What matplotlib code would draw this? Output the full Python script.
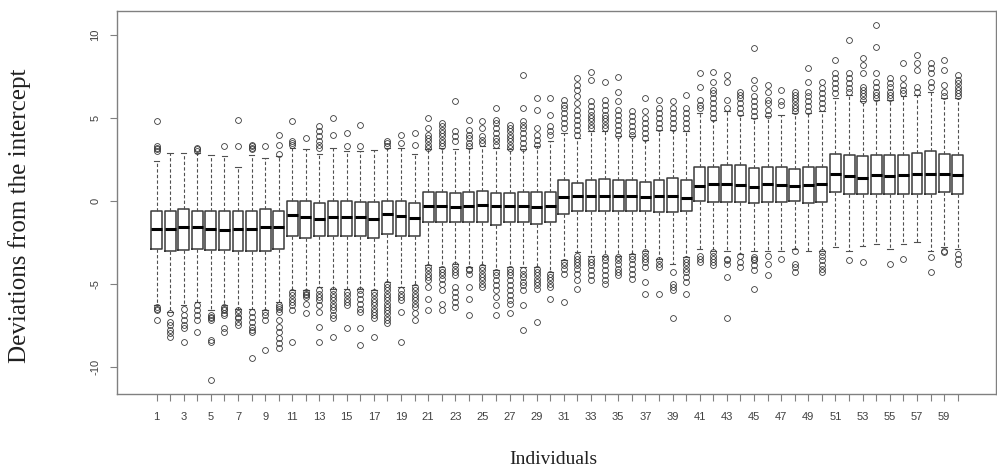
import matplotlib
matplotlib.use("Agg")
import matplotlib.pyplot as plt

individuals = list(range(1, 61))

med = [-1.67, -1.70, -1.57, -1.60, -1.67, -1.77, -1.70, -1.70, -1.60, -1.60,
       -0.86, -0.96, -1.10, -0.96, -0.96, -1.00, -1.10, -0.80, -0.90, -1.06,
       -0.30, -0.30, -0.40, -0.30, -0.24, -0.34, -0.34, -0.30, -0.36, -0.34,
       0.24, 0.30, 0.30, 0.30, 0.30, 0.30, 0.24, 0.30, 0.30, 0.16,
       0.90, 1.00, 1.00, 0.96, 0.86, 1.04, 0.94, 0.90, 0.96, 1.00,
       1.65, 1.50, 1.40, 1.57, 1.50, 1.57, 1.60, 1.60, 1.65, 1.57]

q1 = [-2.91, -3.05, -2.97, -2.90, -2.97, -2.97, -3.01, -3.01, -3.01, -2.90,
      -2.10, -2.25, -2.15, -2.15, -2.15, -2.15, -2.25, -2.00, -2.15, -2.15,
      -1.30, -1.30, -1.30, -1.30, -1.30, -1.45, -1.30, -1.30, -1.38, -1.30,
      -0.80, -0.60, -0.60, -0.60, -0.60, -0.60, -0.60, -0.70, -0.70, -0.60,
      0.00, -0.04, -0.06, -0.06, -0.10, -0.06, -0.04, 0.00, -0.10, -0.06,
      0.56, 0.44, 0.44, 0.44, 0.40, 0.44, 0.44, 0.40, 0.56, 0.44]

q3 = [-0.60, -0.60, -0.50, -0.60, -0.60, -0.60, -0.60, -0.60, -0.50, -0.60,
      0.00, 0.00, -0.10, 0.00, 0.00, -0.05, -0.05, 0.00, 0.00, -0.10,
      0.56, 0.56, 0.50, 0.56, 0.60, 0.50, 0.50, 0.56, 0.56, 0.56,
      1.25, 1.10, 1.25, 1.30, 1.25, 1.25, 1.15, 1.25, 1.35, 1.25,
      2.05, 2.05, 2.15, 2.15, 2.00, 2.05, 2.05, 1.90, 2.05, 2.05,
      2.85, 2.77, 2.70, 2.77, 2.77, 2.77, 2.90, 3.00, 2.85, 2.77]

whis_lo = [-6.3, -6.7, -6.3, -6.1, -6.6, -6.3, -6.5, -6.5, -6.6, -6.1,
           -5.4, -5.4, -5.2, -5.3, -5.3, -5.3, -5.4, -4.9, -5.2, -5.1,
           -3.9, -4.0, -3.8, -4.0, -3.9, -4.2, -4.0, -4.0, -4.0, -4.3,
           -3.6, -3.1, -3.3, -3.3, -3.3, -3.2, -3.0, -3.5, -3.8, -3.4,
           -2.9, -3.0, -3.0, -3.2, -3.0, -3.05, -3.05, -2.9, -3.0, -3.0,
           -2.8, -3.0, -2.7, -2.6, -2.9, -2.6, -2.5, -3.0, -2.8, -2.9]

whis_hi = [2.4, 2.9, 2.9, 2.9, 2.77, 2.7, 2.07, 2.77, 2.6, 2.7,
           3.2, 3.1, 2.8, 3.2, 3.0, 3.0, 3.07, 3.2, 3.2, 2.8,
           3.1, 3.2, 3.1, 3.2, 3.3, 3.2, 3.1, 3.1, 3.3, 3.6,
           4.1, 3.8, 4.2, 4.2, 3.9, 3.9, 3.7, 4.3, 4.3, 4.2,
           5.3, 4.9, 5.4, 5.2, 5.0, 5.1, 5.2, 5.3, 5.3, 5.4,
           6.2, 6.4, 6.0, 6.1, 6.1, 6.3, 6.4, 6.6, 6.2, 6.2]

fliers_hi = [
    [3.0, 3.1, 3.2, 3.3, 4.8], [], [], [3.0, 3.1, 3.2], [], [3.3], [3.3, 4.9],
    [3.1, 3.2, 3.3, 3.4], [3.3], [2.8, 3.4, 4.0],
    [3.4, 3.5, 3.6, 4.8], [3.8], [3.2, 3.4, 3.6, 3.9, 4.2, 4.5], [4.0, 5.0],
    [3.3, 4.1], [3.3, 4.6], [], [3.3, 3.5, 3.6], [3.5, 4.0], [3.4, 4.1],
    [3.2, 3.4, 3.6, 3.8, 4.0, 4.4, 5.0], [3.3, 3.5, 3.7, 3.9, 4.1, 4.3, 4.5, 4.7],
    [3.6, 3.9, 4.2, 6.0], [3.3, 3.5, 3.8, 4.0, 4.3, 4.9], [3.5, 3.7, 3.9, 4.4, 4.8],
    [3.4, 3.6, 3.8, 4.1, 4.4, 4.7, 4.9, 5.6], [3.2, 3.4, 3.6, 3.8, 4.0, 4.2, 4.4, 4.6],
    [3.2, 3.5, 3.8, 4.1, 4.4, 4.6, 4.8, 5.6, 7.6], [3.4, 3.7, 4.0, 4.4, 5.5, 6.2],
    [4.0, 4.2, 4.5, 5.2, 6.2],
    [4.4, 4.7, 5.0, 5.3, 5.6, 5.8, 6.1], [4.0, 4.3, 4.6, 4.9, 5.2, 5.5, 5.9, 6.3, 6.7, 7.0, 7.4],
    [4.4, 4.6, 4.8, 5.0, 5.2, 5.4, 5.7, 6.0, 7.3, 7.8], [4.4, 4.6, 4.8, 5.0, 5.2, 5.5, 5.8, 6.1, 7.2],
    [4.0, 4.3, 4.6, 4.9, 5.2, 5.5, 6.0, 6.6, 7.5], [4.0, 4.2, 4.5, 4.8, 5.1, 5.4],
    [3.8, 4.1, 4.4, 4.7, 5.0, 5.4, 6.2], [4.4, 4.7, 5.0, 5.3, 5.6, 6.1],
    [4.4, 4.7, 5.0, 5.3, 5.6, 6.0], [4.4, 4.7, 5.0, 5.3, 5.6, 6.4],
    [5.6, 5.8, 6.1, 6.9, 7.7], [5.0, 5.3, 5.6, 5.9, 6.2, 6.5, 6.7, 7.2, 7.8],
    [5.6, 6.1, 7.2, 7.6], [5.3, 5.6, 5.9, 6.2, 6.4, 6.6], [5.1, 5.4, 5.7, 6.0, 6.3, 6.8, 7.3, 9.2],
    [5.2, 5.5, 5.9, 6.1, 6.6, 7.0], [5.8, 6.0, 6.7], [5.4, 5.6, 5.8, 6.0, 6.2, 6.4, 6.6],
    [5.4, 5.7, 6.0, 6.3, 6.6, 7.2, 8.0], [5.6, 5.9, 6.2, 6.5, 6.8, 7.2],
    [6.5, 6.8, 7.1, 7.4, 7.7, 8.5], [6.6, 6.8, 7.1, 7.4, 7.7, 9.7],
    [6.1, 6.3, 6.5, 6.7, 6.9, 7.7, 8.2, 8.6], [6.2, 6.4, 6.6, 6.9, 7.2, 7.7, 9.3, 10.6],
    [6.2, 6.4, 6.6, 6.9, 7.1, 7.4], [6.5, 6.7, 7.0, 7.4, 8.3], [6.6, 6.9, 7.9, 8.3, 8.8],
    [6.9, 7.2, 7.7, 8.0, 8.3], [6.3, 6.6, 7.0, 7.9, 8.5], [6.3, 6.5, 6.7, 6.9, 7.1, 7.3, 7.6],
]

fliers_lo = [
    [-6.4, -6.5, -6.6, -7.2], [-6.8, -7.3, -7.5, -7.8, -8.0, -8.2],
    [-6.5, -6.9, -7.2, -7.5, -7.7, -8.5], [-6.3, -6.6, -6.9, -7.2, -7.9],
    [-6.9, -7.0, -7.1, -7.2, -8.4, -8.5, -10.8], [-6.4, -6.5, -6.6, -6.8, -6.9, -7.7, -7.9],
    [-6.6, -6.8, -7.0, -7.1, -7.3, -7.5], [-6.7, -7.0, -7.3, -7.6, -7.8, -7.9, -9.5],
    [-6.7, -6.9, -7.2, -9.0], [-6.3, -6.4, -6.5, -6.7, -7.2, -7.6, -7.9, -8.3, -8.6, -8.9],
    [-5.5, -5.7, -5.9, -6.1, -6.3, -6.6, -8.5], [-5.5, -5.6, -5.7, -5.8, -6.2, -6.8],
    [-5.4, -5.6, -5.8, -6.0, -6.3, -6.7, -7.6, -8.5],
    [-5.4, -5.6, -5.8, -6.0, -6.2, -6.4, -6.6, -6.9, -7.1, -8.2],
    [-5.5, -5.7, -5.9, -6.1, -6.3, -7.7], [-5.4, -5.6, -5.9, -6.2, -6.5, -6.7, -7.7, -8.7],
    [-5.5, -5.7, -5.9, -6.1, -6.3, -6.5, -6.7, -6.9, -7.1, -8.2],
    [-5.0, -5.2, -5.4, -5.6, -5.8, -6.0, -6.2, -6.4, -6.6, -6.8, -7.0, -7.2, -7.4],
    [-5.4, -5.6, -5.8, -6.0, -6.7, -8.5], [-5.2, -5.4, -5.6, -5.8, -6.0, -6.2, -6.4, -6.8, -7.2],
    [-4.0, -4.2, -4.4, -4.6, -4.8, -5.2, -5.9, -6.6], [-4.1, -4.3, -4.5, -4.7, -5.0, -5.4, -6.2, -6.6],
    [-3.9, -4.1, -4.3, -4.5, -5.2, -5.5, -5.8, -6.1, -6.4], [-4.1, -4.2, -4.4, -5.2, -5.9, -6.9],
    [-4.0, -4.2, -4.4, -4.6, -4.8, -5.0, -5.2], [-4.3, -4.5, -4.8, -5.1, -5.4, -5.8, -6.3, -6.9],
    [-4.1, -4.3, -4.5, -4.8, -5.1, -5.4, -5.7, -6.0, -6.2, -6.8],
    [-4.2, -4.4, -4.6, -4.9, -5.1, -5.4, -6.3, -7.8], [-4.1, -4.3, -4.5, -4.7, -4.9, -5.1, -5.3, -7.3],
    [-4.4, -4.6, -4.8, -5.0, -5.2, -5.9],
    [-3.7, -3.9, -4.1, -4.4, -6.1], [-3.3, -3.5, -3.7, -3.9, -4.1, -4.4, -4.8, -5.3],
    [-3.5, -3.7, -3.9, -4.2, -4.5, -4.8], [-3.4, -3.6, -3.9, -4.2, -4.5, -4.8, -5.0],
    [-3.4, -3.6, -3.8, -4.1, -4.3, -4.5], [-3.3, -3.5, -3.8, -4.1, -4.4, -4.7],
    [-3.1, -3.3, -3.5, -3.7, -4.0, -4.9, -5.6], [-3.6, -3.8, -4.0, -5.6],
    [-4.3, -5.0, -5.2, -5.4, -7.1], [-3.5, -3.7, -3.9, -4.1, -4.3, -4.6, -4.9, -5.6],
    [-3.3, -3.5, -3.7], [-3.1, -3.3, -3.5, -3.7, -3.9], [-3.5, -3.6, -3.8, -4.6, -7.1],
    [-3.3, -3.7, -4.0], [-3.4, -3.5, -3.6, -3.9, -4.2, -5.3], [-3.3, -3.8, -4.5], [-3.5],
    [-3.05, -3.8, -4.0, -4.3], [], [-3.1, -3.3, -3.6, -3.9, -4.1, -4.3],
    [], [-3.6], [-3.7], [], [-3.8], [-3.5], [], [-3.4, -4.3], [-3.0, -3.1], [-3.2, -3.5, -3.8],
]

stats = []
for i in range(len(individuals)):
    stats.append(dict(med=med[i], q1=q1[i], q3=q3[i],
                      whislo=whis_lo[i], whishi=whis_hi[i],
                      fliers=fliers_hi[i] + fliers_lo[i]))

fig = plt.figure(figsize=(9.97, 4.72), dpi=100)
ax = fig.add_axes([117/997, 1 - 394/472, (996 - 117)/997, (394 - 11)/472])

ax.bxp(stats, positions=individuals, widths=0.8, capwidths=0.4,
       patch_artist=False, manage_ticks=False,
       boxprops=dict(color='#3a3a3a', linewidth=1.1),
       medianprops=dict(color='black', linewidth=2.2, solid_capstyle='butt'),
       whiskerprops=dict(color='#505050', linewidth=0.8, linestyle=(0, (3, 2))),
       capprops=dict(color='#505050', linewidth=0.8),
       flierprops=dict(marker='o', markerfacecolor='none', markeredgecolor='#3a3a3a',
                       markersize=4.2, markeredgewidth=0.6, linestyle='none'))

ax.set_xlim(-1.91, 62.82)
ax.set_ylim(-11.66, 11.46)

ax.set_xticks(individuals)
ax.set_xticklabels([str(v) if v % 2 == 1 else '' for v in individuals])
ax.set_yticks([-10, -5, 0, 5, 10])
ax.set_yticklabels(['-10', '-5', '0', '5', '10'], rotation=90, va='center')

for sp in ax.spines.values():
    sp.set_color('#808080')
    sp.set_linewidth(1.0)

ax.tick_params(axis='both', direction='out', length=5, width=0.8, color='#808080',
               labelcolor='#404040', labelsize=8)
ax.tick_params(axis='x', pad=8)
ax.tick_params(axis='y', pad=7)
for lab in ax.get_xticklabels() + ax.get_yticklabels():
    lab.set_fontfamily('Liberation Sans')

fig.text(20/997, 1 - 216/472, 'Deviations from the intercept', rotation=90,
         ha='center', va='center', fontsize=18, family='Liberation Serif', color='#202020')
fig.text(553/997, 1 - 459/472, 'Individuals', ha='center', va='center',
         fontsize=14, family='Liberation Serif', color='#202020')

fig.savefig('out.png', dpi=100)
